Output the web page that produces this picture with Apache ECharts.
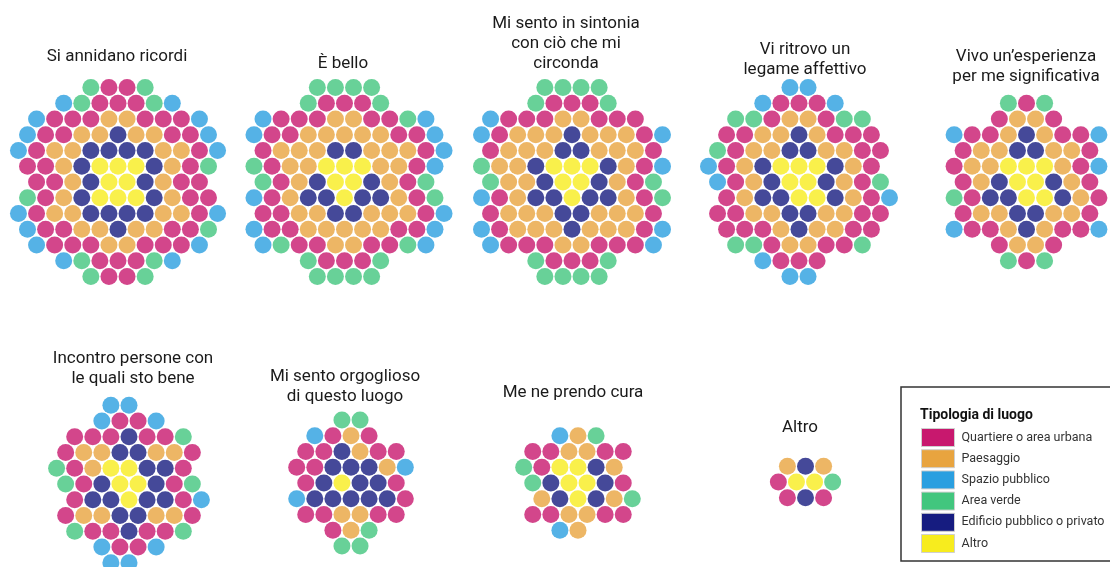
<!DOCTYPE html>
<html>
<head>
<meta charset="utf-8">
<script src="https://cdn.jsdelivr.net/npm/echarts@6/dist/echarts.min.js"></script>
<style>
html,body{margin:0;padding:0;background:#fff;}
#chart{width:1110px;height:567px;}
</style>
</head>
<body>
<div id="chart"></div>
<script>
// tipologie di luogo
var categories = ['Quartiere o area urbana', 'Paesaggio', 'Spazio pubblico', 'Area verde', 'Edificio pubblico o privato', 'Altro'];
var codes = ['M', 'O', 'B', 'G', 'D', 'Y'];
var colors = ['#c8186e', '#e8a43f', '#2a9fe0', '#42c67e', '#161c80', '#f7ec1e'];

var titles = [
    'Si annidano ricordi',
    'È bello',
    'Mi sento in sintonia\ncon ciò che mi\ncirconda',
    'Vi ritrovo un\nlegame affettivo',
    'Vivo un’esperienza\nper me significativa',
    'Incontro persone con\nle quali sto bene',
    'Mi sento orgoglioso\ndi questo luogo',
    'Me ne prendo cura',
    'Altro'
];

// una lettera = un pallino, ogni carattere = mezzo passo
var rows1 = [
'        G M M G',
'     B G M M M G B',
'  B M M M O O M M M B',
' B M M O O D O O M M B',
'B M O O D D D D O O M B',
' M M O D Y Y Y D O M G',
'  M M O D Y Y D O M M',
' G M O D Y Y Y D O M M',
'B M O O D D D D O O M B',
' B M M O O D O O M M G',
'  B M M M O O M M M B',
'     B G M M M G B',
'        G M M G'
];
var rows2 = [
'        G G G G',
'       G M M M G',
'  B M M M O O M M G B',
' B M M O O O O O M M B',
'  M O O O D D O O O M B',
' G M O O Y Y Y O O M B',
'  G M O D Y Y D O M G',
' B M O D D Y D D O M G',
'  M M O O D D O O O M B',
' B M M O O O O O M M B',
'  B G M M O O M M G B',
'       G M M M G',
'        G G G G'
];
var rows3 = [
'        G G G G',
'       G M M M G',
'  B M M M O O M M M',
' B M O O O D O O O M B',
'  M O O O D D O O O M',
' G O O D Y Y Y D O M B',
'  G O O D Y Y D O M G',
' B M O D D Y D D O M G',
'  M O O O D D O O O M',
' B M O O O D O O O M B',
'  B M M M O O M M M B',
'       G M M M G',
'        G G G G'
];
var rows4 = [
'         B B',
'      B M M M B',
'   G G M O O M G G',
'  M M O O D O M M M',
' G M O O D D O O M M',
'B M O D Y Y Y D O M',
' B M O D Y Y D O M G',
'  M O D D Y Y D O M B',
' M M O O D D O O M M',
'  M M M O D O O M M',
'   G G M O O M M G',
'      B M M M',
'         B B'
];
var rows5 = [
'      G M G',
'     M O O M',
'B M M O D O M M B',
' M O O D D O O M',
'M O O Y Y Y O M B',
' M O D Y Y D O M',
'G M D D Y Y D O M',
' M O O D D O O M',
'B M M O D O M M B',
'     M O O M',
'      G M G'
];
var rows6 = [
'      B B',
'     B M M B',
'  M M M D M M G',
' M O O D D O O M',
'G M O Y Y D D M',
' G M D Y Y D M G',
'  M D D Y D D M B',
' M O O D D O O M',
'  G M M D M M G',
'     B M M B',
'      B B'
];
var rows7 = [
'     G G',
'  B M O M',
' M M D O M M',
'M M D D D O B',
' M D Y D D M',
'B D D D D D M',
' M M O O M M',
'    M O G',
'     G G'
];
var rows8 = [
'    B O G',
' M M O O M M',
'G M Y Y D O',
' G D Y Y D M',
'  O D Y D O G',
' M M O O M M',
'    B O'
];
var rows9 = [
' O D O',
'M Y Y G',
' M D M'
];

var clusters = [rows1, rows2, rows3, rows4, rows5, rows6, rows7, rows8, rows9];

// layout: centro di ogni gruppo e posizione dei titoli (px)
var centers = [[118, 182], [349, 182], [572, 182], [799, 182], [1026.5, 182], [129, 484], [351, 483], [578, 483], [805.5, 482]];
var titlePos = [[117, 47], [343, 54], [566, 14], [805, 40], [1026, 47], [133, 349], [345, 367], [573, 383], [800, 418]];
var halfStep = 9.05;
var rowStep = 15.75;

function extent(rows) {
    var minC = 1e9, maxC = -1e9;
    rows.forEach(function(r){
        for (var i = 0; i < r.length; i++) {
            if (r[i] !== ' ') { minC = Math.min(minC, i); maxC = Math.max(maxC, i); }
        }
    });
    return {cc: (minC + maxC) / 2, hx: (maxC - minC) / 2, cr: (rows.length - 1) / 2};
}

function clusterPoints(rows, code) {
    var e = extent(rows);
    var out = [];
    rows.forEach(function(r, j){
        for (var i = 0; i < r.length; i++) {
            if (r[i] === code) out.push([i - e.cc, j - e.cr]);
        }
    });
    return out;
}

var myChart = echarts.init(document.getElementById('chart'));

var grids = [], xAxes = [], yAxes = [], series = [], titleList = [];
clusters.forEach(function(rows, k){
    var e = extent(rows);
    var w = 2 * e.hx * halfStep, h = 2 * e.cr * rowStep;
    grids.push({left: centers[k][0] - w / 2, top: centers[k][1] - h / 2, width: w, height: h});
    xAxes.push({type: 'value', gridIndex: k, min: -e.hx, max: e.hx, show: false});
    yAxes.push({type: 'value', gridIndex: k, min: -e.cr, max: e.cr, inverse: true, show: false});
    codes.forEach(function(code, c){
        series.push({
            name: categories[c],
            type: 'scatter',
            xAxisIndex: k,
            yAxisIndex: k,
            symbolSize: 17,
            clip: false,
            itemStyle: {color: colors[c], opacity: 0.8},
            emphasis: {disabled: true},
            data: clusterPoints(rows, code)
        });
    });
    titleList.push({
        text: titles[k],
        left: titlePos[k][0],
        top: titlePos[k][1],
        textAlign: 'center',
        padding: 0,
        textStyle: {fontFamily: 'Roboto', fontSize: 17, fontWeight: 'normal', color: '#1a1a1a', lineHeight: 20}
    });
});

titleList.push({
    text: 'Tipologia di luogo',
    left: 920,
    top: 408,
    padding: 0,
    textStyle: {fontFamily: 'Roboto', fontSize: 14, fontWeight: 'bold', color: '#111'}
});

var option = {
    animation: false,
    title: titleList,
    grid: grids,
    xAxis: xAxes,
    yAxis: yAxes,
    legend: {
        data: categories,
        orient: 'vertical',
        left: 901,
        top: 387,
        padding: [41, 12, 8, 20],
        borderColor: '#333',
        borderWidth: 1.5,
        icon: 'rect',
        itemWidth: 33,
        itemHeight: 18,
        itemGap: 2.2,
        selectedMode: false,
        itemStyle: {opacity: 1, borderColor: '#cfcfcf', borderWidth: 1},
        textStyle: {fontFamily: 'Roboto', fontSize: 12.5, color: '#333', padding: [0, 0, 0, 2]}
    },
    series: series
};

myChart.setOption(option);
</script>
</body>
</html>
